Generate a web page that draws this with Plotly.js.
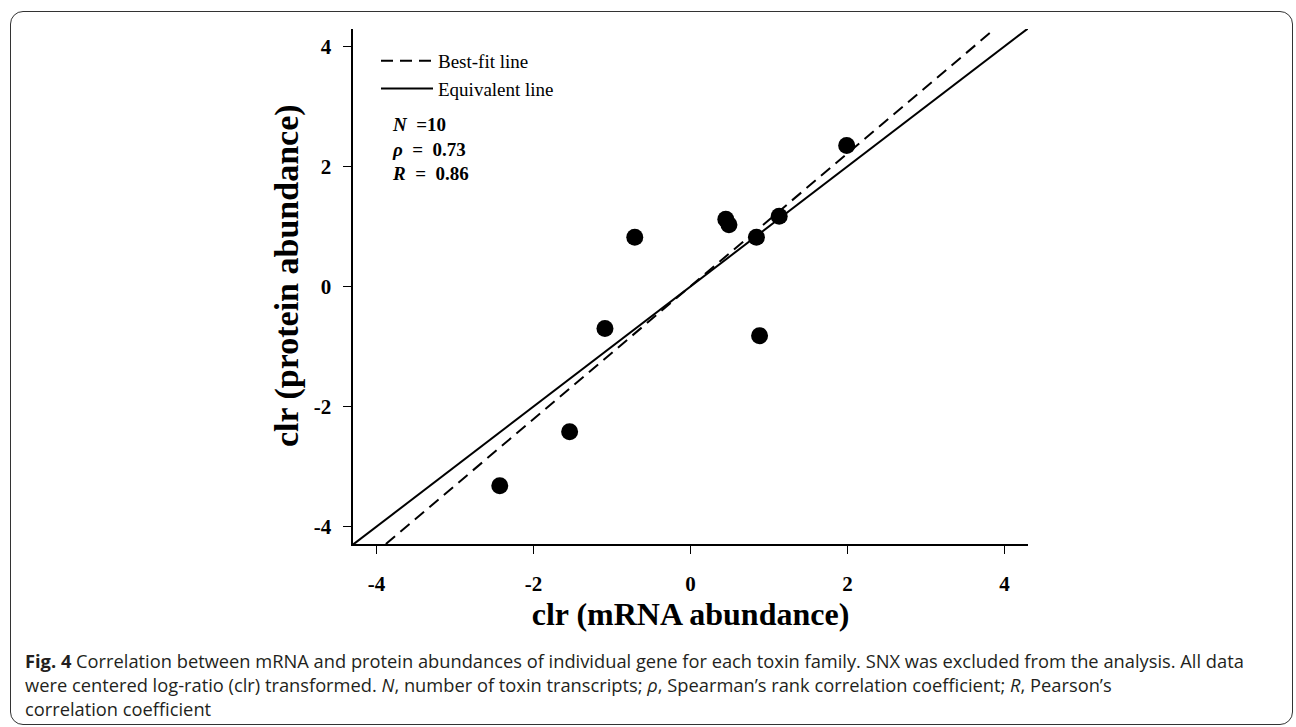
<!DOCTYPE html>
<html>
<head>
<meta charset="utf-8">
<script src="https://cdn.plot.ly/plotly-3.0.1.min.js"></script>
<style>
  html, body { margin: 0; padding: 0; background: #fff; }
  #wrap { position: relative; width: 1296px; height: 727px; }
  #chart { position: absolute; left: 0; top: 0; width: 1296px; height: 727px; }
  #frame { position: absolute; left: 10px; top: 11px; width: 1281px; height: 712px;
           border: 1.5px solid #333; border-radius: 13px; pointer-events: none; }
</style>
</head>
<body>
<div id="wrap">
  <div id="chart"></div>
  <div id="frame"></div>
</div>
<script>
// ---- data ----
const mrnaClr    = [-2.43, -1.54, -1.09, -0.71, 0.45, 0.49, 0.84, 0.88, 1.13, 1.99];
const proteinClr = [-3.32, -2.42, -0.70, 0.82, 1.12, 1.03, 0.82, -0.82, 1.17, 2.35];
const tickValues = [-4, -2, 0, 2, 4];
const tickLabels = ['-4', '-2', '0', '2', '4'];
const legendNames = ['Best-fit line', 'Equivalent line'];
const statLines = ['<i>N</i>&nbsp; =10', '<i>ρ</i>&nbsp; = &nbsp;0.73', '<i>R</i>&nbsp; = &nbsp;0.86'];
const xTitle = 'clr (mRNA abundance)';
const yTitle = 'clr (protein abundance)';
const captionLines = [
  '<b>Fig. 4</b> Correlation between mRNA and protein abundances of individual gene for each toxin family. SNX was excluded from the analysis. All data',
  'were centered log-ratio (clr) transformed. <i>N</i>, number of toxin transcripts; <i>ρ</i>, Spearman’s rank correlation coefficient; <i>R</i>, Pearson’s',
  'correlation coefficient'
];

// ---- layout geometry ----
const W = 1296, H = 727;
const plotL = 353, plotR = 1028, plotT = 29, plotB = 544;
const xRange = [-4.3, 4.3];
const yRange = [-4.29, 4.29];
const px2x = p => (p - plotL) / (plotR - plotL);
const py2y = p => (plotB - p) / (plotB - plotT);

// least-squares best-fit line from the data
const n = mrnaClr.length;
const mx = mrnaClr.reduce((a, b) => a + b, 0) / n;
const my = proteinClr.reduce((a, b) => a + b, 0) / n;
let sxy = 0, sxx = 0;
for (let i = 0; i < n; i++) { sxy += (mrnaClr[i] - mx) * (proteinClr[i] - my); sxx += (mrnaClr[i] - mx) ** 2; }
const slope = sxy / sxx, intercept = my - slope * mx;
const fitX = [(yRange[0] - intercept) / slope, (yRange[1] - intercept) / slope];
const fitY = fitX.map(x => intercept + slope * x);
// equivalent line y = x across the axis range
const eqX = [xRange[0], xRange[1]];
const eqY = eqX.slice();

const serif = 'Liberation Serif, Times New Roman, serif';
const sans = 'Open Sans, Noto Sans, sans-serif';

const traces = [
  { x: mrnaClr, y: proteinClr, mode: 'markers', type: 'scatter', showlegend: false,
    marker: { size: 17, color: '#000' }, cliponaxis: false },
  { x: fitX, y: fitY, mode: 'lines', type: 'scatter', name: legendNames[0],
    line: { color: '#000', width: 2, dash: '12px,7px' } },
  { x: eqX, y: eqY, mode: 'lines', type: 'scatter', name: legendNames[1],
    line: { color: '#000', width: 2 } }
];

const axisCommon = {
  showgrid: false, zeroline: false, showline: true, linecolor: '#000', linewidth: 1.6,
  ticks: 'outside', ticklen: 8, tickwidth: 1.5, tickcolor: '#000',
  tickmode: 'array', tickvals: tickValues, ticktext: tickLabels,
  tickfont: { family: serif, size: 21, color: '#000', weight: 'bold' },
  automargin: false, fixedrange: true
};

const annotations = [
  { xref: 'paper', yref: 'paper', x: px2x(390), y: py2y(112), xanchor: 'left', yanchor: 'top',
    align: 'left', showarrow: false,
    text: '<b>' + statLines.join('<br>') + '</b>',
    font: { family: serif, size: 19, color: '#000' } },
  // y-axis title
  { xref: 'paper', yref: 'paper', x: px2x(287), y: py2y(276), xanchor: 'center', yanchor: 'middle',
    textangle: -90, showarrow: false, text: '<b>' + yTitle + '</b>',
    font: { family: serif, size: 34, color: '#000' } },
  // caption
  { xref: 'paper', yref: 'paper', x: px2x(23), y: py2y(646), xanchor: 'left', yanchor: 'top',
    align: 'left', showarrow: false, text: captionLines.join('<br>'),
    font: { family: sans, size: 18.3, color: '#231f20' } }
];

const layout = {
  width: W, height: H,
  margin: { l: plotL, r: W - plotR, t: plotT, b: H - plotB, pad: 0 },
  paper_bgcolor: '#fff', plot_bgcolor: '#fff',
  xaxis: Object.assign({}, axisCommon, { range: xRange, ticklabelstandoff: 12,
    title: { text: '<b>' + xTitle + '</b>', standoff: 6,
             font: { family: serif, size: 32, color: '#000' } } }),
  yaxis: Object.assign({}, axisCommon, { range: yRange, ticklabelstandoff: 8 }),
  showlegend: true,
  legend: { x: px2x(376), y: py2y(42), xanchor: 'left', yanchor: 'top',
            bgcolor: 'rgba(0,0,0,0)', borderwidth: 0, itemwidth: 52,
            font: { family: serif, size: 19, color: '#000' }, tracegroupgap: 0 },
  annotations: annotations
};

Plotly.newPlot('chart', traces, layout, { displayModeBar: false, staticPlot: true });
</script>
</body>
</html>
